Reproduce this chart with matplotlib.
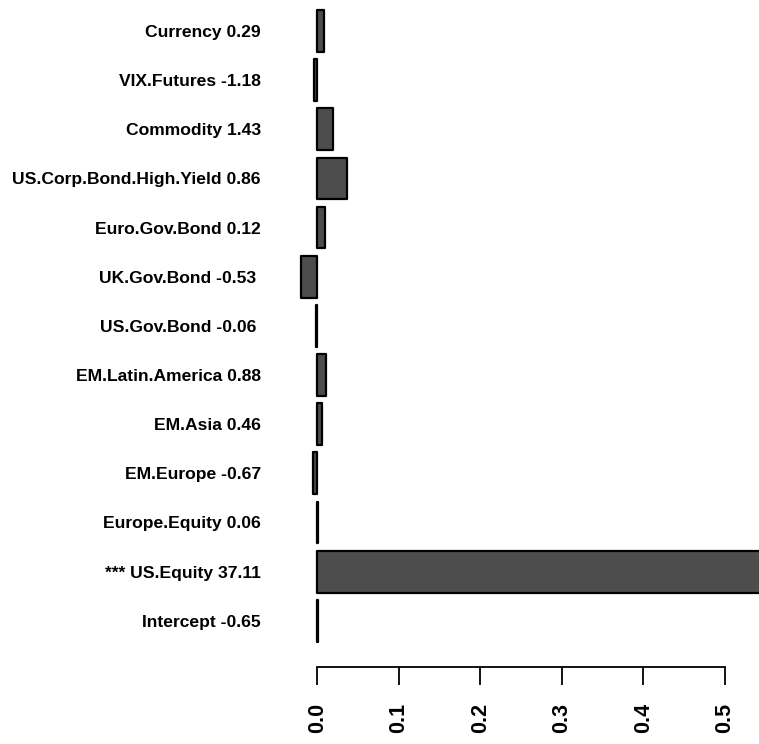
import matplotlib
matplotlib.use("Agg")
import matplotlib.pyplot as plt

# Regression coefficients (bar lengths) with their t-statistics, bottom to top
factors = ["Intercept", "US.Equity", "Europe.Equity", "EM.Europe", "EM.Asia",
           "EM.Latin.America", "US.Gov.Bond", "UK.Gov.Bond", "Euro.Gov.Bond",
           "US.Corp.Bond.High.Yield", "Commodity", "VIX.Futures", "Currency"]
coefs = [0.0005, 0.60, 0.001, -0.005, 0.006, 0.011, -0.001, -0.020, 0.009,
         0.037, 0.019, -0.004, 0.008]
tstats = ["-0.65", "37.11", "0.06", "-0.67", "0.46", "0.88", "-0.06 ", "-0.53 ",
          "0.12", "0.86", "1.43", "-1.18", "0.29"]
stars = ["", "***", "", "", "", "", "", "", "", "", "", "", ""]
xticks = [0.0, 0.1, 0.2, 0.3, 0.4, 0.5]

labels = [(s + " " if s else "") + f + " " + t
          for s, f, t in zip(stars, factors, tstats)]

plt.rcParams["font.family"] = ["Liberation Sans", "DejaVu Sans"]
plt.rcParams["font.weight"] = "bold"

W, H = 759, 744
fig = plt.figure(figsize=(W / 100, H / 100), dpi=100)
left_px, right_px, bottom_px = 295, 759, 666.7
ax = fig.add_axes([left_px / W, (H - bottom_px) / H,
                   (right_px - left_px) / W, bottom_px / H])

pos = list(range(len(factors)))
ax.barh(pos, coefs, height=0.85, color="#4d4d4d", edgecolor="black",
        linewidth=1.6, joinstyle="round")

ax.set_xlim(-0.02735, 0.5420)
ax.set_ylim(-0.934, 12.63)

for side in ("top", "right", "left"):
    ax.spines[side].set_visible(False)
ax.spines["bottom"].set_bounds(0.0, 0.5)
ax.spines["bottom"].set_linewidth(1.3)

ax.set_xticks(xticks)
ax.set_xticklabels([f"{v:.1f}" for v in xticks], rotation=90,
                   fontsize=15.5, fontweight="bold")
ax.tick_params(axis="x", length=13, width=1.3, pad=13)

ax.set_yticks(pos)
ax.set_yticklabels(labels, fontsize=12.6, fontweight="bold")
ax.tick_params(axis="y", length=0, pad=24.5)

fig.savefig("out.png", dpi=100)
